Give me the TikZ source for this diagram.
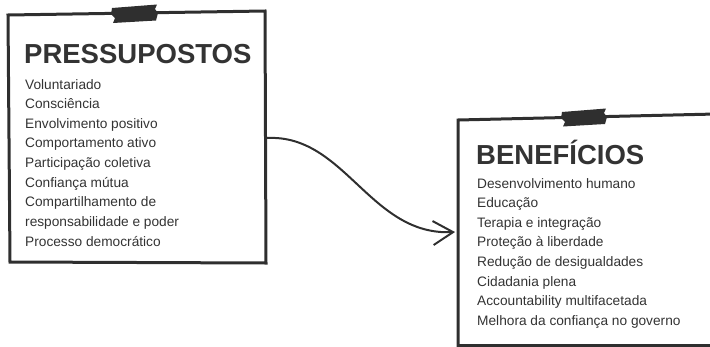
\documentclass[tikz,border=0pt]{standalone}
\usepackage{fontspec}
\setmainfont{Liberation Sans}
\usetikzlibrary{arrows.meta}
\definecolor{ink}{HTML}{2F2F2F}
\definecolor{txt}{HTML}{333333}
\begin{document}
\begin{tikzpicture}[x=1pt,y=-1pt,
  boxline/.style={draw=ink,line width=3pt,line join=miter},
  tape/.style={fill=ink},
  heading/.style={anchor=base west,inner sep=0pt,text=txt,font=\fontsize{27.5}{30}\selectfont\bfseries},
  entry/.style={anchor=base west,inner sep=0pt,text=txt,font=\fontsize{13.7}{16}\selectfont},
  link/.style={draw=ink,line width=2pt,-{Straight Barb[length=20pt,width=24pt,line width=2pt]}}]
\useasboundingbox (0,0) rectangle (710,346);
\clip (0,0) rectangle (710,346);

% left card with its strip of tape
\draw[boxline] (8,15) -- (265,11) -- (266,263) -- (10,262) -- cycle;
\fill[tape] (112,8) -- (157,4.5) -- (155,9) -- (158,13) -- (156,20.5) -- (113,23) -- (115,18) -- (111,14) -- cycle;

% right card, running off the page
\draw[boxline] (458,352) -- (458,120) -- (716,114);
\draw[boxline] (458,345.5) -- (716,345.5);
\fill[tape] (562,112) -- (606,108.5) -- (604,113) -- (607,117) -- (605,124) -- (563,126.5) -- (565,122) -- (561,118) -- cycle;

% left card text
\node[heading] (ptitle) at (24,63) {PRESSUPOSTOS};
\foreach \t [count=\i] in {Voluntariado,Consciência,Envolvimento positivo,Comportamento ativo,Participação coletiva,Confiança mútua,Compartilhamento de,responsabilidade e poder,Processo democrático}
  \node[entry] (p\i) at (25,{89+19.65*(\i-1)}) {\t};

% right card text
\node[heading] (btitle) at (476,164) {BENEFÍCIOS};
\foreach \t [count=\i] in {Desenvolvimento humano,Educação,Terapia e integração,Proteção à liberdade,Redução de desigualdades,Cidadania plena,Accountability multifacetada,Melhora da confiança no governo}
  \node[entry] (b\i) at (477,{188+19.6*(\i-1)}) {\t};

% connector between the cards
\coordinate (pout) at (267,138);
\coordinate (bin) at (455,232);
\draw[link] (pout) .. controls (345,134) and (370,236) .. (bin);
\end{tikzpicture}
\end{document}
